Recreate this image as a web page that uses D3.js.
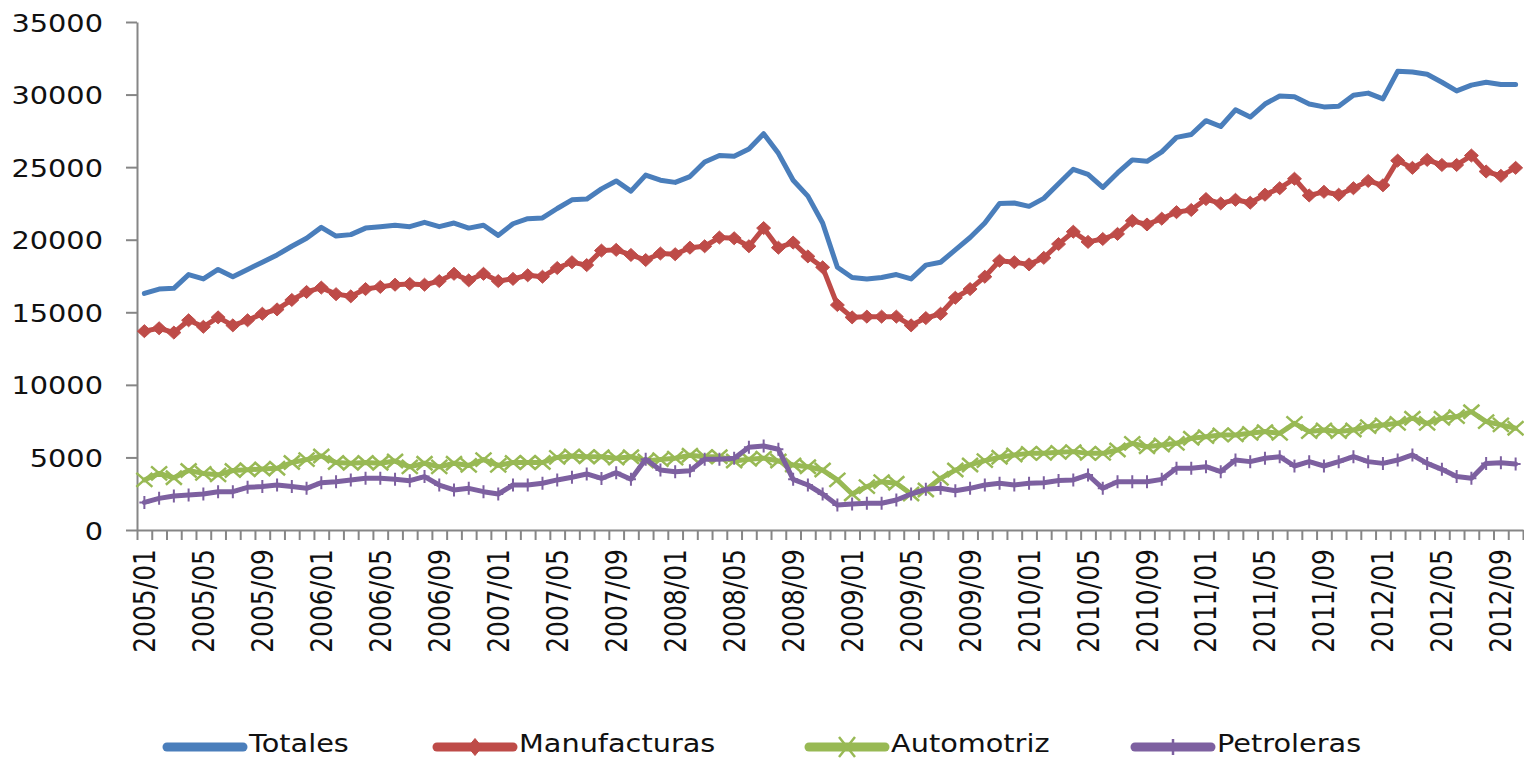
<!DOCTYPE html>
<html><head><meta charset="utf-8">
<script src="https://cdn.jsdelivr.net/npm/d3@7"></script>
<style>html,body{margin:0;padding:0;background:#fff;} svg{display:block;}</style>
</head><body>
<svg id="chart" width="1524" height="758"></svg>
<script>
// ---- data ----
const years = ["2005","2006","2007","2008","2009","2010","2011","2012"];
const monthCodes = ["01","02","03","04","05","06","07","08","09","10","11","12"];
const categories = years.flatMap(y => monthCodes.map(m => y + "/" + m)).slice(0, 94);

const totales = [16300,16600,16650,17600,17300,17950,17450,17950,18450,18950,19550,20100,20850,20250,20350,20800,20900,21000,20900,21200,20900,21150,20800,21000,20300,21100,
21450,21500,22150,22750,22800,23500,24050,23350,24450,24100,23950,24350,25350,25800,25750,26250,27300,25950,24100,23000,21150,18100,17400,17300,17400,17600,17300,18250,18450,19300,20150,21150,22500,
22530,
22300,22850,23850,24850,24500,23600,24600,25500,25400,26050,27050,27250,28200,27800,28950,28450,29350,29900,29850,29350,29150,29200,29950,30100,29700,31600,31550,31400,30850,30250,30650,30850,30700,30700];

const manufacturas = [13700,13900,13600,14450,14000,14650,14100,14450,14900,15200,15850,16400,16700,16250,16100,16600,16750,16900,16950,16900,17150,17650,17200,17650,17150,17300,
17550,17450,18050,18450,18250,19250,19300,18950,18600,19050,19000,19450,19550,20150,20100,19550,20800,19450,19800,18850,18100,15500,14650,14700,14700,14700,14100,14600,14900,16000,16600,17450,18550,
18450,
18300,18750,19700,20550,19850,20050,20400,21300,21050,21450,21900,22050,22800,22500,22750,22550,23100,23550,24200,23050,23300,23100,23550,24050,23750,25450,24950,25500,25150,25150,25800,24700,24400,24950];

const automotriz = [3450,3900,3600,4100,3900,3800,4100,4150,4200,4250,4650,4850,5100,4650,4600,4650,4600,4750,4350,4600,4350,4600,4450,4850,4450,4650,4650,4650,5000,5100,5050,5050,
4950,5050,4750,4850,4950,5150,5050,5050,4750,4870,4950,4750,4480,4360,4130,3450,2480,2990,3330,3220,2480,2760,3560,4130,4480,4780,5010,5170,5280,5280,5350,
5400,5280,5280,5510,5970,5740,5860,5970,6320,6430,6550,6550,6660,6780,6660,7350,6780,6890,6780,6890,7120,7240,7350,7700,7350,7700,7810,8150,7470,7240,7010];

const petroleras = [1900,2180,2340,2410,2480,2640,2640,2940,2990,3100,2990,2870,3260,3330,3450,3560,3560,3490,3400,3680,3100,2760,2870,2640,2480,3100,3100,3220,3450,3630,3860,3550,
3950,3490,4870,4140,4020,4090,4870,4870,4940,5700,5790,5560,3490,3100,2480,1720,1790,1840,1840,2070,2480,2800,2870,2710,2870,3100,3220,3100,3220,3260,3410,
3450,3790,2870,3330,3330,3330,3490,4250,4250,4360,4020,4820,4710,4940,5050,4410,4710,4410,4710,5050,4710,4590,4820,5170,4590,4180,3680,3560,4590,4640,4550];

const yTicks = [0,5000,10000,15000,20000,25000,30000,35000];
const seriesNames = ["Totales","Manufacturas","Automotriz","Petroleras"];

// ---- styling / layout ----
const colors = {Totales:"#4A7EBB", Manufacturas:"#BE4B48", Automotriz:"#98B954", Petroleras:"#7D60A0"};
const markerPaths = {
  Totales: null,
  Manufacturas: "M0,-6.5L7,0L0,6.5L-7,0Z",
  Automotriz: "M-8,-7L8,7M-8,7L8,-7",
  Petroleras: "M0,-6.5L0,6.5M-5,0L5,0"
};
const legendMarkerPaths = {
  Totales: null,
  Manufacturas: "M0,-8.5L7,0L0,8.5L-7,0Z",
  Automotriz: "M-8,-10L8,10M-8,10L8,-10",
  Petroleras: "M0,-8L0,8"
};
const seriesData = {Totales: totales, Manufacturas: manufacturas, Automotriz: automotriz, Petroleras: petroleras};

const plotLeft = 137, plotRight = 1523, plotTop = 22, plotBottom = 530;
const svg = d3.select("#chart");
const x = d3.scaleBand().domain(categories).range([plotLeft, plotRight]).padding(0);
const xEdges = d3.scaleLinear().domain([0, categories.length]).range([plotLeft, plotRight]);
const y = d3.scaleLinear().domain([0, 35000]).range([plotBottom, plotTop]);
const cx = d => x(d) + x.bandwidth() / 2;

const axisColor = "#868686";
const font = "DejaVu Sans, sans-serif";

// y axis
const gy = svg.append("g").attr("transform", `translate(${plotLeft},0)`)
  .call(d3.axisLeft(y).tickValues(yTicks).tickSize(11).tickSizeOuter(0).tickPadding(23).tickFormat(d3.format("d")));
gy.select(".domain").attr("stroke", axisColor).attr("stroke-width", 2);
gy.selectAll(".tick line").attr("stroke", axisColor).attr("stroke-width", 2);
gy.selectAll(".tick text").attr("font-family", font).attr("font-size", 24).attr("fill", "#111")
  .attr("x", 0).attr("dy", "0.38em").attr("text-anchor", "end")
  .attr("transform", "translate(-34,0) scale(1.2,1)");

// x axis tick marks at category boundaries
const gxt = svg.append("g").attr("transform", `translate(0,${plotBottom})`)
  .call(d3.axisBottom(xEdges).tickValues(d3.range(categories.length + 1)).tickSize(10).tickSizeOuter(0).tickFormat(""));
gxt.select(".domain").attr("stroke", axisColor).attr("stroke-width", 2);
gxt.selectAll(".tick line").attr("stroke", axisColor).attr("stroke-width", 2);

// x labels every 4 months
const gxl = svg.append("g").attr("transform", `translate(0,${plotBottom})`)
  .call(d3.axisBottom(x).tickValues(categories.filter((d, i) => i % 4 === 0)).tickSize(0));
gxl.select(".domain").remove();
gxl.selectAll(".tick text")
  .attr("font-family", font).attr("font-size", 25).attr("fill", "#111")
  .attr("text-anchor", "end").attr("x", -19).attr("y", 0).attr("dy", "0.35em")
  .attr("transform", "rotate(-90) scale(1,1.2)");

// lines
const line = d3.line().x((d, i) => cx(categories[i])).y(d => y(d));
const plot = svg.append("g");
seriesNames.forEach(name => {
  const vals = seriesData[name];
  plot.append("path").datum(vals)
    .attr("fill", "none").attr("stroke", colors[name]).attr("stroke-width", 5)
    .attr("stroke-linejoin", "round").attr("stroke-linecap", "round")
    .attr("d", line);
  if (markerPaths[name]) {
    const isFill = name === "Manufacturas";
    plot.append("g").selectAll("path").data(vals).join("path")
      .attr("transform", (d, i) => `translate(${cx(categories[i])},${y(d)})`)
      .attr("d", markerPaths[name])
      .attr("fill", isFill ? colors[name] : "none")
      .attr("stroke", colors[name])
      .attr("stroke-width", isFill ? 1 : (name === "Automotriz" ? 2.5 : 2));
  }
});

// legend
const legendX = [167, 437, 809, 1135];
const legendY = 747;
const lg = svg.append("g");
seriesNames.forEach((name, k) => {
  const g = lg.append("g").attr("transform", `translate(${legendX[k]},${legendY})`);
  g.append("line").attr("x1", 0).attr("x2", 76).attr("y1", 0).attr("y2", 0)
    .attr("stroke", colors[name]).attr("stroke-width", 9).attr("stroke-linecap", "round");
  if (legendMarkerPaths[name]) {
    const isFill = name === "Manufacturas";
    g.append("path").attr("transform", "translate(38,0)").attr("d", legendMarkerPaths[name])
      .attr("fill", isFill ? colors[name] : "none").attr("stroke", colors[name])
      .attr("stroke-width", isFill ? 1 : 2.5);
  }
  g.append("text").attr("x", 0).attr("y", 0)
    .attr("transform", "translate(82,5) scale(1.15,1)")
    .attr("font-family", font).attr("font-size", 25).attr("fill", "#111")
    .text(name);
});
</script>
</body></html>
